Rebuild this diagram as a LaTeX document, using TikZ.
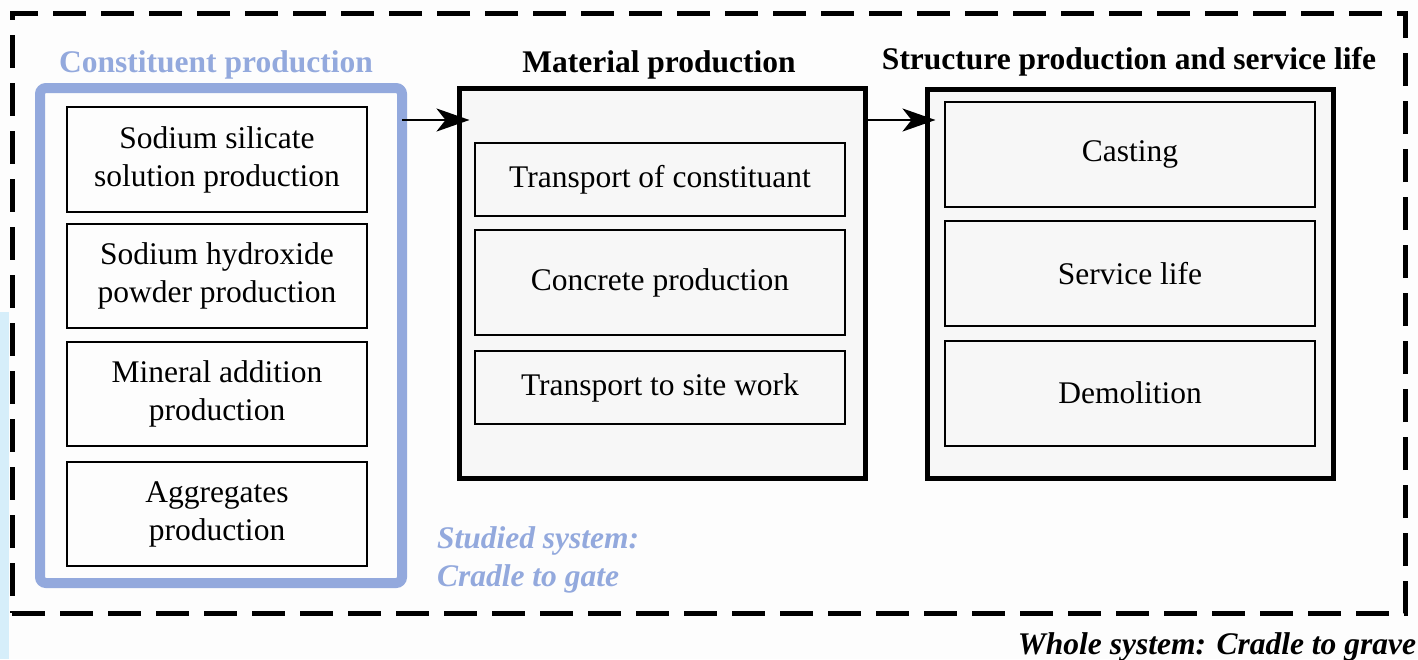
\documentclass[tikz,border=0pt]{standalone}
\usepackage{fontspec}
\setmainfont{Liberation Serif}
\usetikzlibrary{arrows.meta}
\definecolor{bluefr}{HTML}{93A9DD}
\definecolor{panel}{HTML}{F7F7F7}
\definecolor{paper}{HTML}{FDFDFD}
\definecolor{strip}{HTML}{D6EEFA}

\begin{document}
\begin{tikzpicture}[x=1pt,y=-1pt,
  every node/.style={font=\fontsize{31.5}{38}\selectfont, inner sep=0pt, outer sep=0pt},
  wholebox/.style={draw, line width=5pt, dash pattern=on 33pt off 15pt},
  scopebox/.style={draw=bluefr, line width=10pt, rounded corners=6pt, fill=paper},
  stagebox/.style={draw, line width=5pt, fill=panel},
  leafbox/.style={draw, line width=2.2pt, align=center, minimum width=#1},
  leafbox/.default=300pt,
  flow/.style={line width=2.4pt, -{Stealth[length=33pt, width=23pt, inset=9pt]}},
  heading/.style={font=\fontsize{31.5}{38}\selectfont\bfseries},
  systext/.style={font=\fontsize{31.5}{38}\selectfont\bfseries\itshape, align=left}
]
\useasboundingbox (0,0) rectangle (1418,659);
\fill[paper] (0,0) rectangle (1418,659);
\fill[strip] (0,312) rectangle (9,659);

% whole system boundary
\node[wholebox, minimum width=1393pt, minimum height=600pt] (whole) at (708.5,313) {};

% constituent production (studied system)
\node[scopebox, minimum width=362pt, minimum height=495pt] (cons) at (221,335.5) {};
\node[heading, text=bluefr] (consT) at (216,65) {Constituent production};
\node[leafbox, minimum height=105pt, fill=paper] (c1) at (217,159.5) {Sodium silicate\\solution production};
\node[leafbox, minimum height=104pt, fill=paper] (c2) at (217,276) {Sodium hydroxide\\powder production};
\node[leafbox, minimum height=104pt, fill=paper] (c3) at (217,394) {Mineral addition\\production};
\node[leafbox, minimum height=104pt, fill=paper] (c4) at (217,514) {Aggregates\\production};

% material production
\node[stagebox, minimum width=406pt, minimum height=390pt] (mat) at (662.5,283) {};
\node[heading] (matT) at (659,65) {Material production};
\node[leafbox=370pt, minimum height=73pt, fill=panel] (m1) at (660,179.5) {\raisebox{-3pt}{Transport of constituant}};
\node[leafbox=370pt, minimum height=105pt, fill=panel] (m2) at (660,282.5) {\raisebox{-2pt}{Concrete production}};
\node[leafbox=370pt, minimum height=73pt, fill=panel] (m3) at (660,387.5) {\raisebox{-2pt}{Transport to site work}};

% structure production and service life
\node[stagebox, minimum width=405.5pt, minimum height=389pt] (str) at (1130.25,283.5) {};
\node[heading] (strT) at (1129,62) {Structure production and service life};
\node[leafbox=370pt, minimum height=105pt, fill=panel] (s1) at (1130,154.5) {\raisebox{-2pt}{Casting}};
\node[leafbox=370pt, minimum height=105pt, fill=panel] (s2) at (1130,273.5) {Service life};
\node[leafbox=370pt, minimum height=105pt, fill=panel] (s3) at (1130,393.5) {\raisebox{2pt}{Demolition}};

% flows between stages
\draw[flow] ([yshift=-32pt]cons.north east) -- ([xshift=10pt,yshift=-32pt]mat.north west);
\draw[flow] ([yshift=-32pt]mat.north east) -- ([xshift=8pt,yshift=-31pt]str.north west);

% system labels
\node[systext, text=bluefr, anchor=west] (studied) at (437,560) {Studied system:\\Cradle to gate};
\node[systext, anchor=east] (wholeT) at (1416,647) {Whole system: Cradle to grave};
\end{tikzpicture}
\end{document}
